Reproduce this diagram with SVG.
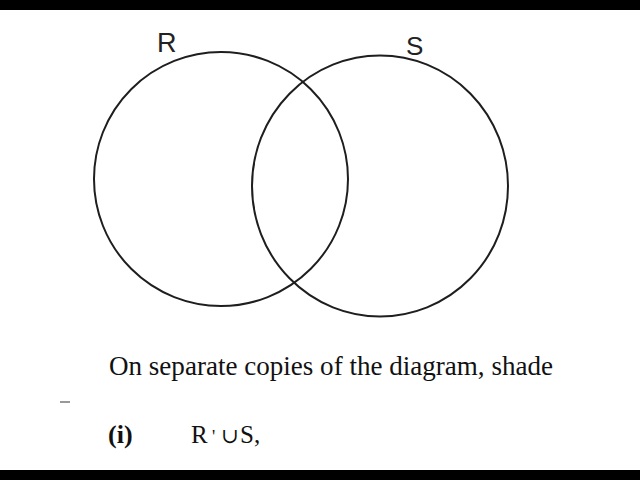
<svg xmlns="http://www.w3.org/2000/svg" width="640" height="480" viewBox="0 0 640 480">
<style>
.c{fill:none;stroke:#1e1e1e;stroke-width:2}
.lbl{font-family:"Liberation Sans",Arial,sans-serif;fill:#222}
.t{font-family:"Liberation Serif","Times New Roman",serif;fill:#111}
</style>
<rect x="0" y="0" width="640" height="480" fill="#fff"/>
<rect x="0" y="0" width="640" height="10" fill="#000"/>
<rect x="0" y="470" width="640" height="10" fill="#000"/>
<g id="R">
<circle class="c" cx="221" cy="179" r="127"/>
<text class="lbl" x="157" y="52" font-size="27">R</text>
</g>
<g id="S">
<ellipse class="c" cx="380" cy="186" rx="128" ry="130.5"/>
<text class="lbl" x="406" y="55" font-size="26">S</text>
</g>
<g id="connectors"></g>
<line x1="60" y1="402" x2="70" y2="402" stroke="#777" stroke-width="1.5"/>
<text class="t" x="109" y="375" font-size="27" textLength="444" lengthAdjust="spacingAndGlyphs">On separate copies of the diagram, shade</text>
<text class="t" x="108" y="443" font-size="26" font-weight="bold">(i)</text>
<text class="t" y="443" font-size="25"><tspan x="191">R</tspan><tspan x="212" y="443" font-size="18">'</tspan><tspan x="221" y="443" font-family="'DejaVu Serif','Liberation Serif',serif" font-size="21">∪</tspan><tspan x="240" font-size="25">S,</tspan></text>
</svg>
